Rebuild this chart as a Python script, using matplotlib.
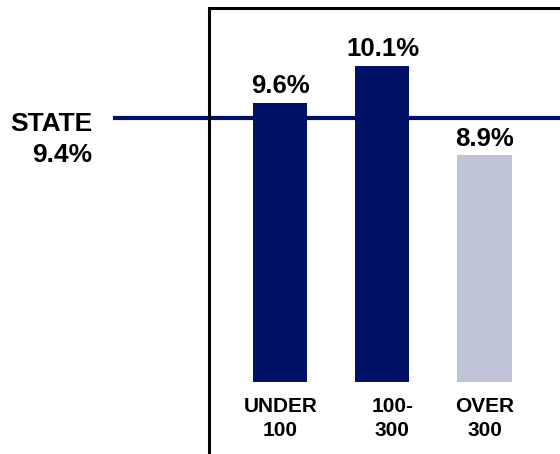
import matplotlib
matplotlib.use("Agg")
import matplotlib.pyplot as plt
import matplotlib.transforms as mtransforms

# Data
categories = ["UNDER\n100", "100-\n300", "OVER\n300"]
rates = [9.6, 10.1, 8.9]
state_rate = 9.4

NAVY = "#001166"
LIGHT = "#BEC3D6"
bar_colors = [NAVY, NAVY, LIGHT]

plt.rcParams["font.family"] = ["Liberation Sans", "DejaVu Sans"]
plt.rcParams["font.weight"] = "bold"

W, H = 560, 454
fig = plt.figure(figsize=(W / 100, H / 100), dpi=100)

# Frame starts at x=209px, y=8px and runs off the right/bottom edges
ax = fig.add_axes([209 / W, 0, 1 - 209 / W, 1 - 8 / H])
ax.set_xlim(-0.70, 2.74)
ax.set_ylim(4.895, 10.874)
base = 5.86  # value at the bars' common baseline

xs = list(range(len(categories)))
ax.bar(xs, [r - base for r in rates], bottom=base, width=0.53,
       color=bar_colors, zorder=3)

# State reference line, running out past the frame on the left
ax.axhline(state_rate, xmin=-0.268, xmax=1, color=NAVY, lw=3,
           clip_on=False, zorder=2)

# Value labels
for x, r in zip(xs, rates):
    ax.annotate("%.1f%%" % r, xy=(x, r), xytext=(0, 7),
                textcoords="offset points", ha="center", va="baseline",
                fontsize=18.5, fontweight="bold")

# Category labels under the bars
label_dx = [0, 7, 0]
for x, lab, dx in zip(xs, categories, label_dx):
    ax.annotate(lab, xy=(x, base), xytext=(dx, -11),
                textcoords="offset points", ha="center", va="top",
                fontsize=15, fontweight="bold", linespacing=1.3,
                annotation_clip=False)

# State label to the left of the line
trans = mtransforms.blended_transform_factory(ax.transAxes, ax.transData)
ax.annotate("STATE\n%.1f%%" % state_rate, xy=(-0.268, state_rate),
            xycoords=trans, xytext=(-16, -15.5), textcoords="offset points",
            ha="right", va="center", multialignment="right",
            fontsize=19, fontweight="bold", linespacing=1.4,
            annotation_clip=False)

# Frame: left and top edges only (the rest falls outside the picture)
for side in ax.spines:
    ax.spines[side].set_visible(False)
frame_x = [0, 0, 1.01]
frame_y = [0, 1, 1]
ax.plot(frame_x, frame_y, transform=ax.transAxes, color="black",
        lw=2.2, clip_on=False, zorder=4, solid_joinstyle="miter")
ax.set_xticks([])
ax.set_yticks([])
ax.patch.set_alpha(0)

fig.savefig("out.png", dpi=100)
